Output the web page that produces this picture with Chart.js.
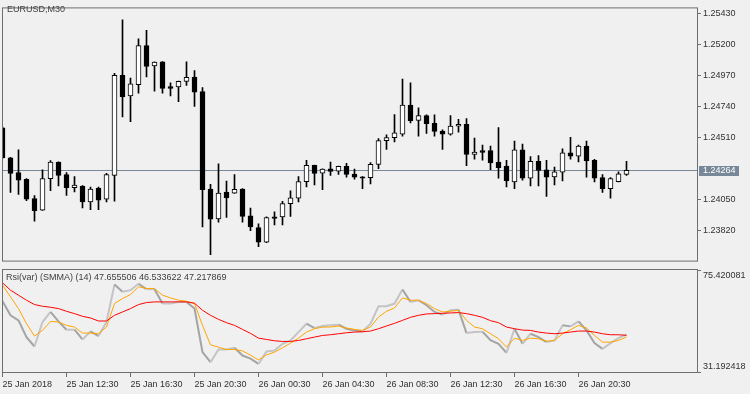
<!DOCTYPE html>
<html>
<head>
<meta charset="utf-8">
<script src="https://cdn.jsdelivr.net/npm/chart.js@4/dist/chart.umd.min.js"></script>
<style>
  html, body { margin: 0; padding: 0; background: #f0f0f0; }
  #wrap { position: relative; width: 750px; height: 394px; overflow: hidden; }
  #priceChart { position: absolute; left: 0; top: 0; }
  #rsiChart { position: absolute; left: 0; top: 269px; }
</style>
</head>
<body>
<div id="wrap">
  <canvas id="priceChart" width="750" height="269"></canvas>
  <canvas id="rsiChart" width="750" height="125"></canvas>
</div>
<script>
// EURUSD M30 candles
const opens = [
  1.24579, 1.24357, 1.24246, 1.24196, 1.24054, 1.23967, 1.24201, 1.24324, 1.24231, 1.24134,
  1.24146, 1.24028, 1.24132, 1.24049, 1.24226, 1.24969, 1.24815, 1.24900, 1.25189, 1.25038,
  1.25068, 1.24884, 1.24882, 1.24924, 1.24955, 1.24848, 1.24125, 1.23903, 1.24101, 1.24094,
  1.24125, 1.23926, 1.23839, 1.23730, 1.23919, 1.23917, 1.24016, 1.24056, 1.24180, 1.24300,
  1.24243, 1.24274, 1.24258, 1.24293, 1.24236, 1.24215, 1.24208, 1.24307, 1.24484, 1.24506,
  1.24531, 1.24747, 1.24633, 1.24669, 1.24612, 1.24555, 1.24531, 1.24591, 1.24605, 1.24382,
  1.24409, 1.24409, 1.24324, 1.24295, 1.24177, 1.24416, 1.24205, 1.24331, 1.24267, 1.24215,
  1.24250, 1.24394, 1.24368, 1.24444, 1.24338, 1.24210, 1.24127, 1.24180, 1.24233
];
const highs = [
  1.24585, 1.24360, 1.24416, 1.24203, 1.24075, 1.24267, 1.24336, 1.24326, 1.24246, 1.24217,
  1.24151, 1.24139, 1.24139, 1.24241, 1.24983, 1.25380, 1.24948, 1.25239, 1.25302, 1.25068,
  1.25070, 1.24912, 1.24926, 1.25068, 1.25004, 1.24877, 1.24160, 1.24311, 1.24184, 1.24231,
  1.24127, 1.23983, 1.23867, 1.23919, 1.23955, 1.24033, 1.24111, 1.24217, 1.24338, 1.24302,
  1.24274, 1.24324, 1.24295, 1.24316, 1.24272, 1.24217, 1.24321, 1.24499, 1.24527, 1.24678,
  1.24941, 1.24912, 1.24728, 1.24676, 1.24676, 1.24563, 1.24669, 1.24641, 1.24648, 1.24503,
  1.24451, 1.24444, 1.24581, 1.24338, 1.24480, 1.24458, 1.24366, 1.24373, 1.24338, 1.24288,
  1.24423, 1.24508, 1.24451, 1.24480, 1.24345, 1.24231, 1.24210, 1.24253, 1.24331
];
const lows = [
  1.24350, 1.24099, 1.24084, 1.24038, 1.23886, 1.23965, 1.24113, 1.24148, 1.24077, 1.24104,
  1.23985, 1.23971, 1.23971, 1.24028, 1.24035, 1.24659, 1.24624, 1.24836, 1.24957, 1.24851,
  1.24836, 1.24815, 1.24773, 1.24893, 1.24737, 1.23843, 1.23638, 1.23879, 1.23914, 1.24092,
  1.23879, 1.23815, 1.23697, 1.23726, 1.23858, 1.23858, 1.23921, 1.24028, 1.24141, 1.24155,
  1.24120, 1.24226, 1.24233, 1.24212, 1.24198, 1.24127, 1.24162, 1.24276, 1.24418, 1.24475,
  1.24517, 1.24616, 1.24517, 1.24538, 1.24517, 1.24418, 1.24525, 1.24546, 1.24297, 1.24347,
  1.24338, 1.24269, 1.24205, 1.24141, 1.24127, 1.24191, 1.24148, 1.24148, 1.24070, 1.24155,
  1.24184, 1.24347, 1.24326, 1.24212, 1.24177, 1.24099, 1.24056, 1.24178, 1.24226
];
const closes = [
  1.24357, 1.24241, 1.24191, 1.24049, 1.23964, 1.24203, 1.24324, 1.24226, 1.24134, 1.24153,
  1.24028, 1.24125, 1.24042, 1.24231, 1.24969, 1.24808, 1.24905, 1.25189, 1.25035, 1.25066,
  1.24872, 1.24872, 1.24924, 1.24953, 1.24843, 1.24120, 1.23900, 1.24094, 1.24059, 1.24123,
  1.23921, 1.23843, 1.23730, 1.23912, 1.23907, 1.24016, 1.24059, 1.24180, 1.24300, 1.24241,
  1.24272, 1.24255, 1.24293, 1.24233, 1.24212, 1.24205, 1.24307, 1.24484, 1.24506, 1.24541,
  1.24747, 1.24631, 1.24669, 1.24609, 1.24553, 1.24531, 1.24591, 1.24605, 1.24382, 1.24399,
  1.24397, 1.24319, 1.24283, 1.24184, 1.24416, 1.24205, 1.24331, 1.24262, 1.24212, 1.24253,
  1.24394, 1.24368, 1.24444, 1.24333, 1.24205, 1.24127, 1.24203, 1.24238, 1.24264
];

// Rsi(var) with its two SMMA lines
const rsiVar = [
  61.72, 55.73, 53.59, 46.46, 42.47, 52.88, 57.15, 53.16, 49.60, 49.60,
  45.46, 48.88, 46.89, 52.88, 68.84, 65.71, 66.42, 69.13, 66.85, 66.85,
  60.72, 60.72, 61.43, 61.43, 58.58, 40.04, 35.77, 41.18, 41.18, 41.90,
  38.62, 37.33, 35.05, 40.33, 40.76, 43.61, 45.03, 48.60, 52.16, 50.31,
  51.17, 51.45, 51.74, 50.02, 49.31, 48.88, 52.16, 59.58, 59.58, 60.72,
  66.71, 61.43, 62.14, 60.00, 57.15, 56.01, 57.87, 58.15, 48.17, 48.60,
  48.74, 45.18, 43.61, 39.76, 50.02, 43.61, 47.89, 46.46, 44.32, 45.03,
  51.45, 51.02, 53.16, 49.31, 43.89, 41.47, 43.89, 46.03, 47.66
];
const rsiFast = [
  68.56, 63.57, 58.58, 52.16, 46.89, 49.31, 53.16, 52.88, 51.45, 50.74,
  48.17, 48.17, 47.89, 50.74, 60.72, 62.86, 64.57, 67.85, 67.13, 67.13,
  64.28, 63.14, 62.14, 61.72, 60.72, 51.45, 43.18, 42.18, 41.18, 41.18,
  40.61, 38.76, 36.76, 38.90, 40.04, 41.90, 43.89, 46.03, 48.60, 50.02,
  50.74, 50.74, 51.17, 50.31, 49.74, 49.31, 50.74, 55.01, 57.44, 58.86,
  63.14, 62.14, 62.14, 60.72, 58.58, 57.15, 57.44, 57.87, 53.59, 50.74,
  50.02, 47.89, 45.75, 42.18, 46.03, 45.03, 46.03, 45.75, 44.75, 45.03,
  47.89, 49.60, 51.45, 50.31, 47.17, 44.32, 44.32, 45.03, 46.53
];
const rsiSlow = [
  69.56, 66.42, 64.28, 62.14, 60.29, 59.58, 59.15, 58.58, 57.44, 56.44,
  55.30, 54.59, 53.30, 53.30, 55.73, 57.15, 58.58, 60.29, 61.15, 61.43,
  61.43, 61.43, 61.43, 61.43, 60.86, 57.87, 55.73, 54.02, 52.59, 51.45,
  49.74, 48.03, 46.03, 45.46, 44.89, 44.61, 44.61, 45.03, 45.75, 46.46,
  47.17, 47.46, 47.89, 48.31, 48.60, 48.74, 49.03, 50.02, 51.17, 52.31,
  53.59, 54.87, 55.73, 56.30, 56.44, 56.58, 56.73, 56.87, 56.44, 55.73,
  54.87, 53.45, 52.59, 50.74, 50.02, 49.45, 49.31, 48.60, 48.17, 47.89,
  48.17, 48.60, 49.03, 49.03, 48.60, 47.89, 47.46, 47.46, 47.22
];

const priceTicks = [1.25430, 1.25200, 1.24970, 1.24740, 1.24510, 1.24050, 1.23820];
const rsiMax = 75.420081;
const rsiMin = 31.192418;
const timeTickBars = [0, 8, 16, 24, 32, 40, 48, 56, 64, 72];
const timeLabels = [
  "25 Jan 2018", "25 Jan 12:30", "25 Jan 16:30", "25 Jan 20:30", "26 Jan 00:30",
  "26 Jan 04:30", "26 Jan 08:30", "26 Jan 12:30", "26 Jan 16:30", "26 Jan 20:30"
];
const symbolTitle = "EURUSD,M30";
const rsiTitle = "Rsi(var) (SMMA) (14) 47.655506 46.533622 47.217869";

const FONT = { family: '"Liberation Sans", Arial, sans-serif', size: 9 };
const TEXT = "#303030";
const FRAME = "#6e6e6e";
const X_MIN = -0.0625, X_MAX = 86.9375;   // 8 px per bar, room on the right

// plain box around each panel
const framePlugin = {
  id: "frame",
  afterDraw(chart) {
    const { ctx, chartArea: a } = chart;
    ctx.save();
    ctx.strokeStyle = FRAME;
    ctx.lineWidth = 1;
    ctx.strokeRect(a.left + 0.5, a.top + 0.5, a.width - 1, a.height - 1);
    ctx.restore();
  }
};

// last price line + tag on the price axis
const lastPricePlugin = {
  id: "lastPrice",
  beforeDatasetsDraw(chart) {
    const { ctx, chartArea: a, scales } = chart;
    const py = Math.round(scales.y.getPixelForValue(closes[closes.length - 1])) + 0.5;
    ctx.save();
    ctx.strokeStyle = "#778899";
    ctx.lineWidth = 1;
    ctx.beginPath();
    ctx.moveTo(a.left, py);
    ctx.lineTo(a.right, py);
    ctx.stroke();
    ctx.restore();
  },
  afterDraw(chart) {
    const { ctx, chartArea: a, scales } = chart;
    const last = closes[closes.length - 1];
    const py = Math.round(scales.y.getPixelForValue(last));
    ctx.save();
    ctx.fillStyle = "#778899";
    ctx.fillRect(a.right + 1, py - 4, 40, 10);
    ctx.fillStyle = "#ffffff";
    ctx.font = FONT.size + "px " + FONT.family;
    ctx.textBaseline = "middle";
    ctx.fillText(last.toFixed(5), a.right + 5, py + 1);
    ctx.fillStyle = "#404040";
    ctx.fillText(symbolTitle, 7, 10);
    ctx.restore();
  }
};

const candleBodies = opens.map((o, i) => ({ x: i, y: [o, closes[i]] }));
const candleWicks = lows.map((l, i) => ({ x: i, y: [l, highs[i]] }));
const bodyColors = opens.map((o, i) => (closes[i] >= o ? "#ffffff" : "#000000"));

new Chart(document.getElementById("priceChart"), {
  type: "bar",
  data: {
    datasets: [
      {
        data: candleBodies,
        backgroundColor: bodyColors,
        borderColor: "#000000",
        borderWidth: 1,
        borderSkipped: false,
        barThickness: 5,
        grouped: false,
        order: 1,
      },
      {
        data: candleWicks,
        backgroundColor: "#000000",
        borderWidth: 0,
        barThickness: 1,
        grouped: false,
        order: 2,
      },
    ],
  },
  options: {
    responsive: false,
    animation: false,
    events: [],
    layout: { padding: { left: 2, top: 2, right: 0, bottom: 1 } },
    plugins: { legend: { display: false }, tooltip: { enabled: false } },
    scales: {
      x: { type: "linear", min: X_MIN, max: X_MAX, offset: false, display: false },
      y: {
        position: "right",
        min: 1.235859,
        max: 1.254726,
        afterFit: (s) => { s.width = 52; },
        afterBuildTicks: (s) => { s.ticks = priceTicks.map((v) => ({ value: v })); },
        border: { display: false },
        grid: { drawOnChartArea: false, tickLength: 3, color: FRAME },
        ticks: {
          font: FONT,
          color: TEXT,
          padding: 2,
          callback: (v) => Number(v).toFixed(5),
        },
      },
    },
  },
  plugins: [framePlugin, lastPricePlugin],
});

const rsiTitlePlugin = {
  id: "rsiTitle",
  afterDraw(chart) {
    const { ctx, chartArea: a } = chart;
    ctx.save();
    ctx.fillStyle = "#404040";
    ctx.font = FONT.size + "px " + FONT.family;
    ctx.textBaseline = "middle";
    ctx.fillText(rsiTitle, 6, 9);
    // little marks where the range ends
    ctx.strokeStyle = FRAME;
    ctx.beginPath();
    ctx.moveTo(a.right, a.top + 1.5);
    ctx.lineTo(a.right + 3, a.top + 1.5);
    ctx.moveTo(a.right, a.bottom - 0.5);
    ctx.lineTo(a.right + 3, a.bottom - 0.5);
    ctx.stroke();
    ctx.restore();
  }
};

const toPoints = (arr) => arr.map((v, i) => ({ x: i, y: v }));

new Chart(document.getElementById("rsiChart"), {
  type: "line",
  data: {
    datasets: [
      {
        data: toPoints(rsiVar),
        borderColor: "#c0c0c0",
        borderWidth: 2,
        pointRadius: 0,
        tension: 0,
        order: 3,
        segment: {
          borderColor: (c) => (c.p1.parsed.y < c.p0.parsed.y ? "#a4a4a4" : "#c4c4c4"),
        },
      },
      {
        data: toPoints(rsiFast),
        borderColor: "#ffa500",
        borderWidth: 1,
        pointRadius: 0,
        tension: 0,
        order: 2,
      },
      {
        data: toPoints(rsiSlow),
        borderColor: "#ff0000",
        borderWidth: 1,
        pointRadius: 0,
        tension: 0,
        order: 1,
      },
    ],
  },
  options: {
    responsive: false,
    animation: false,
    events: [],
    layout: { padding: { left: 2, top: 0, right: 0, bottom: 0 } },
    plugins: { legend: { display: false }, tooltip: { enabled: false } },
    scales: {
      x: {
        type: "linear",
        min: X_MIN,
        max: X_MAX,
        offset: false,
        afterFit: (s) => { s.height = 21; },
        afterBuildTicks: (s) => { s.ticks = timeTickBars.map((v) => ({ value: v })); },
        border: { display: false },
        grid: { drawOnChartArea: false, tickLength: 4, color: FRAME },
        ticks: {
          font: FONT,
          color: TEXT,
          align: "start",
          maxRotation: 0,
          autoSkip: false,
          padding: 2,
          callback: (v, i) => timeLabels[i],
        },
      },
      y: {
        position: "right",
        min: rsiMin,
        max: rsiMax,
        afterFit: (s) => { s.width = 52; s.paddingTop = 0; s.paddingBottom = 0; },
        // MT prints the range labels just inside the panel edges
        afterBuildTicks: (s) => {
          const nudge = (rsiMax - rsiMin) * 6.5 / 104;
          s.ticks = [{ value: rsiMax - nudge }, { value: rsiMin + nudge }];
        },
        border: { display: false },
        grid: { display: false, drawTicks: false, tickLength: 0 },
        ticks: {
          font: FONT,
          color: TEXT,
          padding: 5,
          callback: (v, i) => (i === 0 ? rsiMax : rsiMin).toFixed(6),
        },
      },
    },
  },
  plugins: [framePlugin, rsiTitlePlugin],
});
</script>
</body>
</html>
